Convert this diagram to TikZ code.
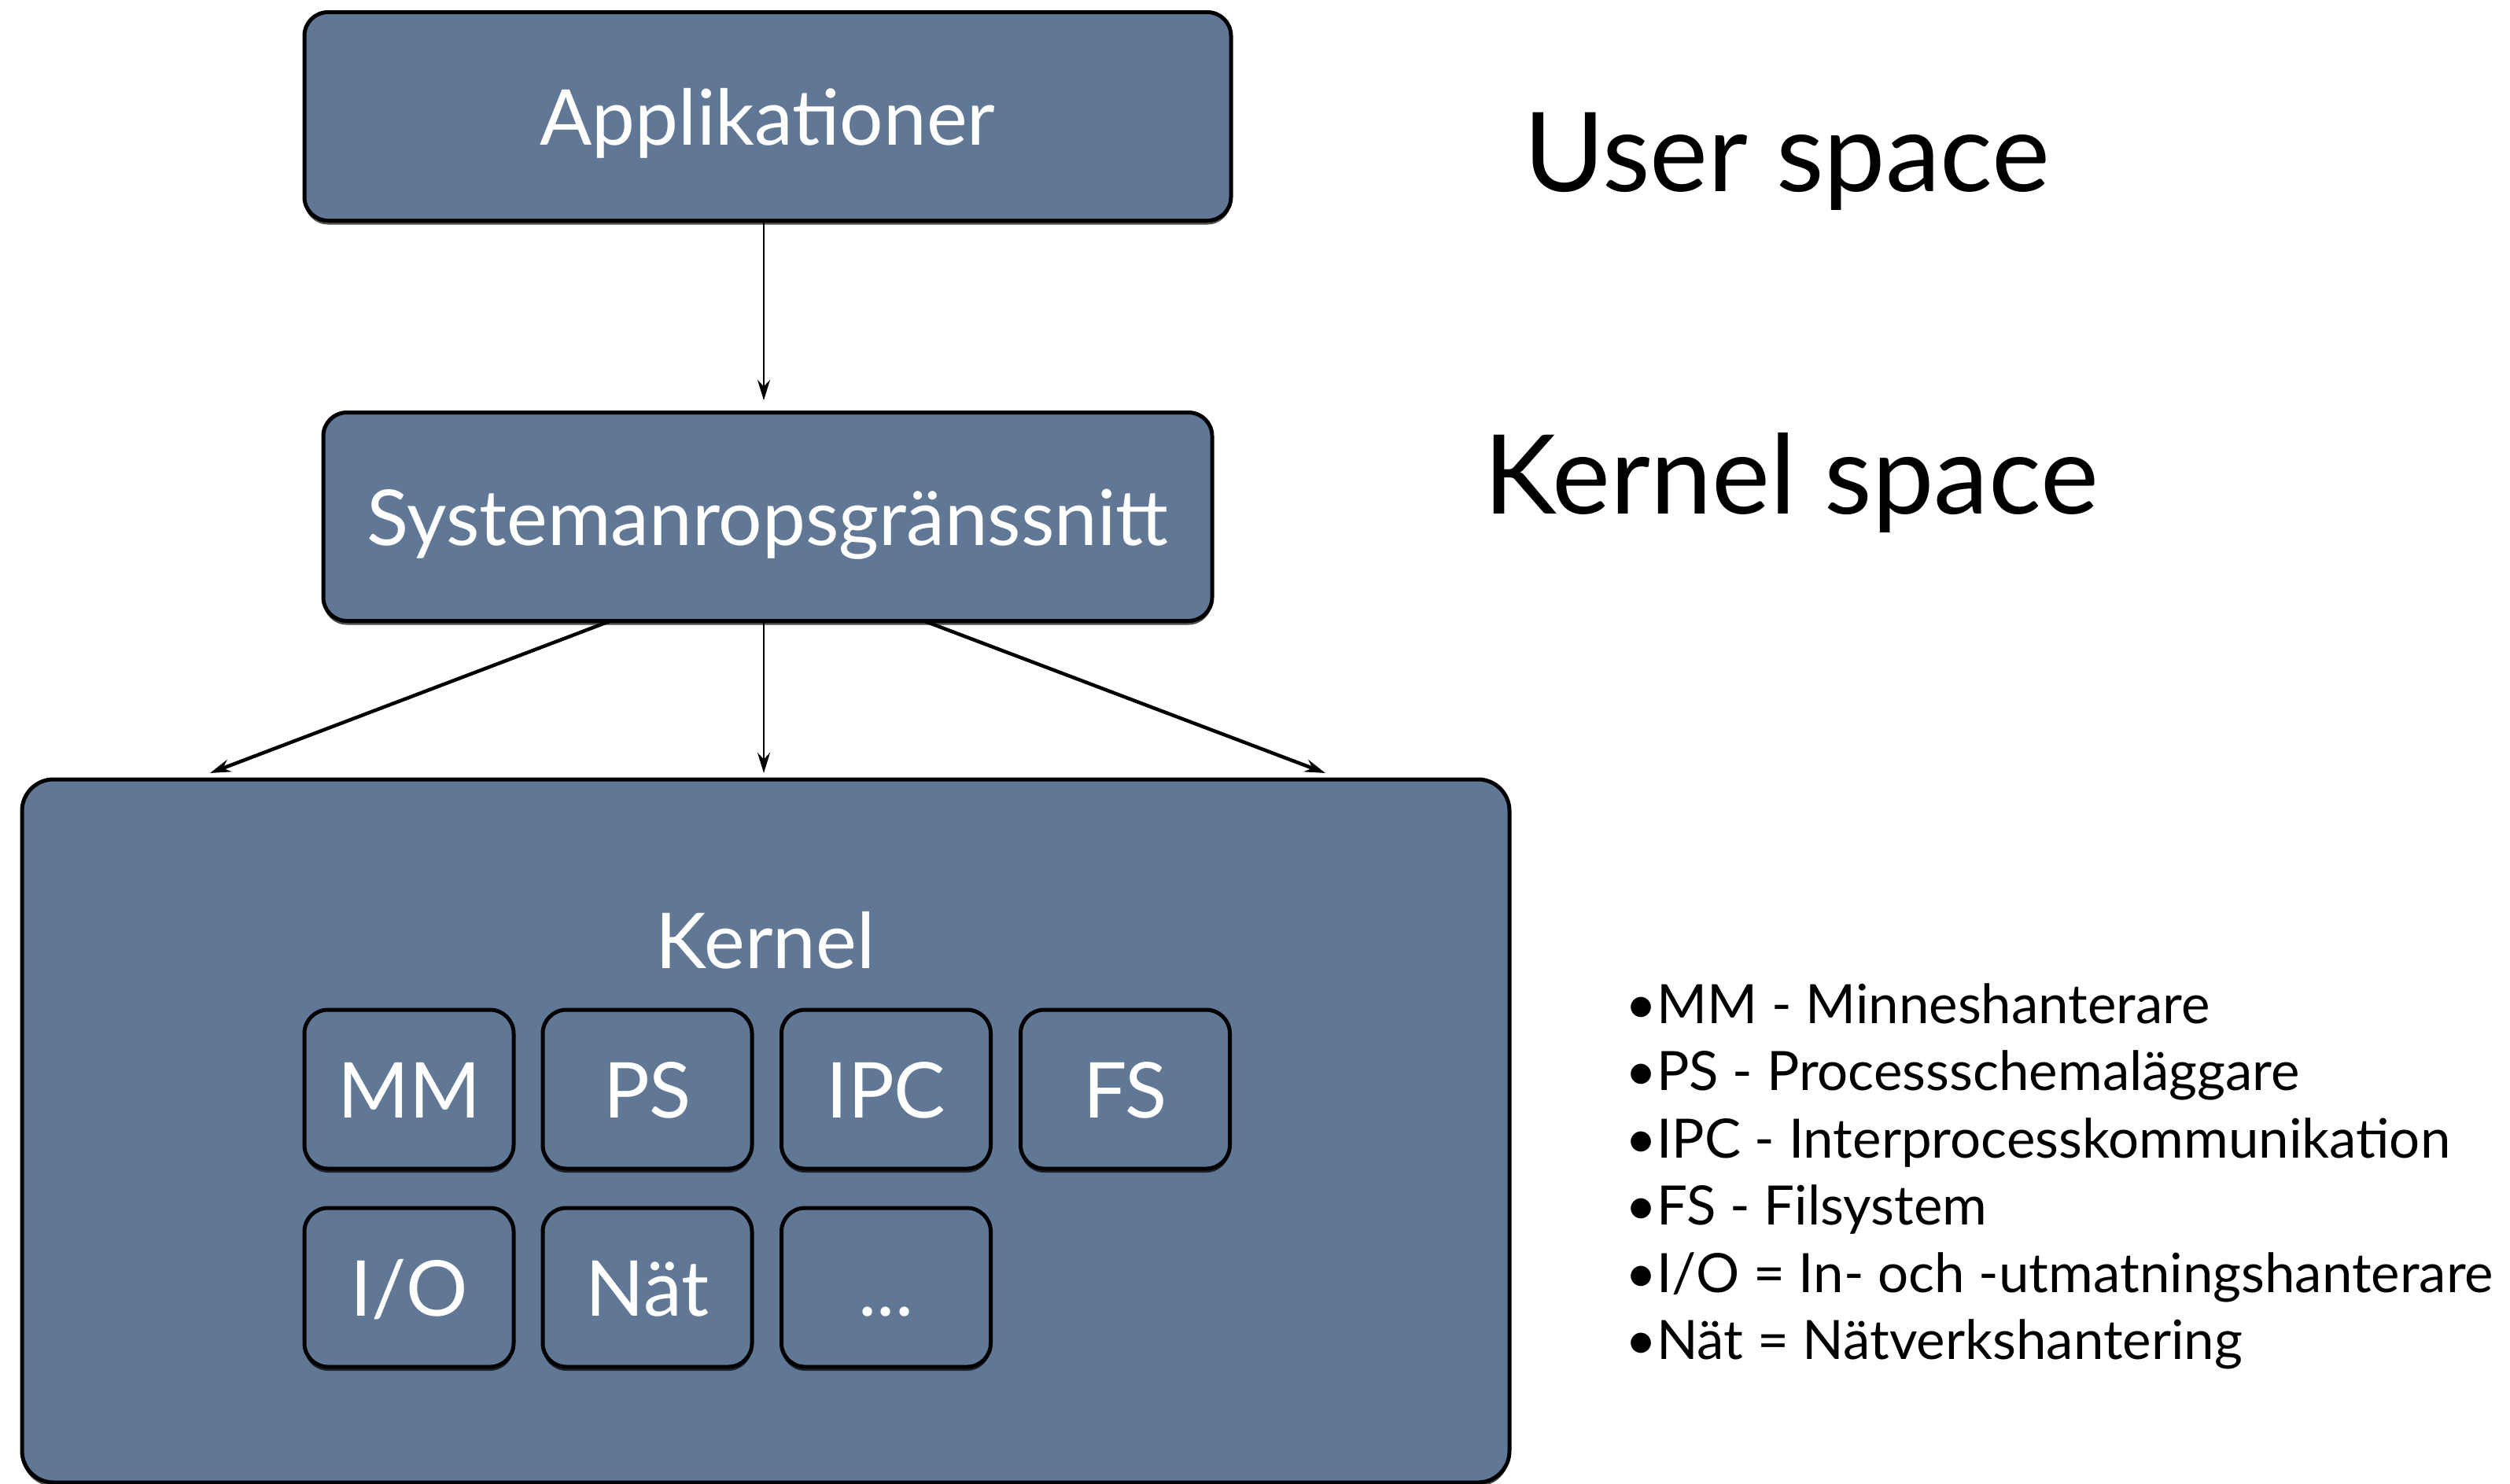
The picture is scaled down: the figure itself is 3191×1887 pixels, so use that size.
\documentclass[tikz,border=0pt]{standalone}
\usepackage{fontspec}
\setmainfont{Lato}
\usetikzlibrary{arrows.meta,shadows}
\definecolor{slate}{RGB}{96,120,150}
\tikzset{
  box/.style={draw=black, line width=5pt, fill=slate, rounded corners=30pt,
    text=white, inner sep=0pt,
    drop shadow={shadow xshift=0pt, shadow yshift=-5pt, opacity=0.7, fill=black}},
  boxtxt/.style={font=\fontsize{98}{116}\selectfont, text height=72pt, text depth=0pt},
  arr/.style={-{Stealth[length=26pt,width=16pt]}, line width=4.5pt},
  thinarr/.style={-{Stealth[length=26pt,width=16pt]}, line width=2.8pt},
}
\begin{document}
\begin{tikzpicture}[x=1pt,y=-1pt]
\useasboundingbox (0,0) rectangle (3191,1887);
\fill[white] (0,0) rectangle (3191,1887);
% main boxes
\node[box, boxtxt, minimum width=1178pt, minimum height=265pt] (app) at (976,148) {Applikationer};
\node[box, boxtxt, minimum width=1130pt, minimum height=265pt] (sys) at (976,657) {Systemanropsgränssnitt};
\node[box, rounded corners=40pt, minimum width=1891pt, minimum height=894pt] (kern) at (973.5,1438) {};
\node[text=white, boxtxt] (kernlbl) at (973,1195) {Kernel};
% small boxes
\node[box, boxtxt, minimum width=266pt, minimum height=202pt] (mm)  at (520,1385) {MM};
\node[box, boxtxt, minimum width=266pt, minimum height=202pt] (ps)  at (823,1385) {PS};
\node[box, boxtxt, minimum width=266pt, minimum height=202pt] (ipc) at (1126.5,1385) {IPC};
\node[box, boxtxt, minimum width=266pt, minimum height=202pt] (fs)  at (1430.5,1385) {FS};
\node[box, boxtxt, minimum width=266pt, minimum height=202pt] (io)  at (520,1637) {I/O};
\node[box, boxtxt, minimum width=266pt, minimum height=202pt] (nat) at (823,1637) {Nät};
\node[box, boxtxt, minimum width=266pt, minimum height=202pt] (dots) at (1126.5,1637) {...};
% arrows
\coordinate (t0) at (971,281);
\coordinate (t1) at (971,509);
\draw[thinarr] (t0) -- (t1);
\coordinate (s1) at (775,790);
\coordinate (s2) at (971,790);
\coordinate (s3) at (1176,790);
\coordinate (k1) at (267,983);
\coordinate (k2) at (971,983);
\coordinate (k3) at (1685,983);
\draw[arr] (s1) -- (k1);
\draw[thinarr] (s2) -- (k2);
\draw[arr] (s3) -- (k3);
% side labels
\node[anchor=west, font=\fontsize{140}{160}\selectfont, inner sep=0pt] (user) at (1937,205) {User space};
\node[anchor=west, font=\fontsize{140}{160}\selectfont, inner sep=0pt] (kspace) at (1886,614) {Kernel space};
% legend
\node[anchor=north west, align=left, inner sep=0pt, font=\fontsize{69}{85.5}\selectfont] (legend) at (2066,1250) {%
•MM - Minneshanterare\\
•PS - Processschemaläggare\\
•IPC - Interprocesskommunikation\\
•FS - Filsystem\\
•I/O = In- och -utmatningshanterare\\
•Nät = Nätverkshantering};
\end{tikzpicture}
\end{document}
